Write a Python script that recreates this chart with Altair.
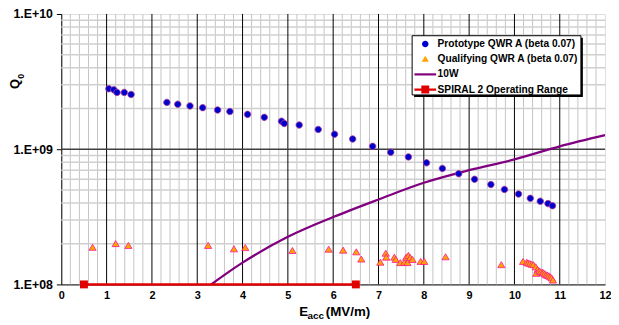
import altair as alt
import pandas as pd

# ---------------- data ----------------
proto_name = "Prototype QWR A (beta 0.07)"
qual_name = "Qualifying QWR A (beta 0.07)"
w10_name = "10W"
spiral_name = "SPIRAL 2 Operating Range"
series_names = [proto_name, qual_name, w10_name, spiral_name]

proto_E = [1.05, 1.16, 1.23, 1.39, 1.54, 2.33, 2.57, 2.84, 3.12, 3.45, 3.72, 4.11, 4.48,
           4.86, 4.92, 5.25, 5.67, 6.03, 6.43, 6.87, 7.27, 7.66, 8.06, 8.41, 8.77, 9.12,
           9.48, 9.78, 10.09, 10.35, 10.57, 10.74, 10.84]
proto_Q = [2.80e9, 2.75e9, 2.63e9, 2.63e9, 2.54e9, 2.22e9, 2.15e9, 2.09e9, 2.03e9, 1.95e9,
           1.90e9, 1.81e9, 1.72e9, 1.61e9, 1.55e9, 1.51e9, 1.40e9, 1.29e9, 1.19e9, 1.05e9,
           9.5e8, 8.77e8, 7.93e8, 7.21e8, 6.59e8, 5.99e8, 5.48e8, 5.04e8, 4.66e8, 4.33e8,
           4.12e8, 3.96e8, 3.82e8]

qual_E = [0.69, 1.20, 1.48, 3.24, 3.81, 4.06, 5.10, 5.90, 6.22, 6.51, 6.62, 7.04, 7.16, 7.17,
          7.35, 7.38, 7.48, 7.57, 7.61, 7.66, 7.70, 7.64, 7.75, 7.93, 8.01, 8.48, 9.71, 10.19,
          10.27, 10.30, 10.34, 10.38, 10.42, 10.47, 10.51, 10.48, 10.55, 10.58, 10.62, 10.64,
          10.67, 10.70, 10.73, 10.76, 10.79, 10.82, 10.85]
qual_Q = [1.87e8, 1.99e8, 1.93e8, 1.93e8, 1.82e8, 1.86e8, 1.77e8, 1.81e8, 1.78e8, 1.73e8,
          1.53e8, 1.45e8, 1.69e8, 1.58e8, 1.58e8, 1.52e8, 1.44e8, 1.45e8, 1.58e8, 1.63e8,
          1.57e8, 1.44e8, 1.52e8, 1.47e8, 1.47e8, 1.59e8, 1.39e8, 1.47e8, 1.45e8, 1.43e8,
          1.42e8, 1.40e8, 1.39e8, 1.34e8, 1.28e8, 1.20e8, 1.25e8, 1.23e8, 1.22e8, 1.21e8,
          1.19e8, 1.17e8, 1.16e8, 1.15e8, 1.13e8, 1.11e8, 1.07e8]

w10_E = [3.0, 4.0, 5.0, 6.0, 7.0, 8.0, 9.0, 10.0, 11.0, 12.0]
w10_Q = [8.4e7, 1.45e8, 2.25e8, 3.15e8, 4.25e8, 5.65e8, 7.0e8, 8.4e8, 1.05e9, 1.27e9]

spiral_E = [0.5, 6.5]
spiral_Q = [1e8, 1e8]

x_ticks = [0, 1, 2, 3, 4, 5, 6, 7, 8, 9, 10, 11, 12]
y_ticks = [1e8, 1e9, 1e10]
minor_x = [i / 5 for i in range(1, 60) if i % 5]
major_x = [1, 2, 3, 4, 5, 6, 7, 8, 9, 10, 11]
minor_y = [2e8, 3e8, 4e8, 5e8, 6e8, 7e8, 8e8, 9e8, 2e9, 3e9, 4e9, 5e9, 6e9, 7e9, 8e9, 9e9]
major_y = [1e9]

# ---------------- styles ----------------
colors = ["#0000cc", "#ffa500", "#800080", "#e00000"]
# symbol paths (1 unit = 5 px at size 100)
shapes = [
    "M-0.66,0A0.66,0.66,0,1,0,0.66,0A0.66,0.66,0,1,0,-0.66,0Z",
    "M0,-0.7L0.73,0.53L-0.73,0.53Z",
    "M-2.2,-0.22H2.2V0.22H-2.2Z",
    "M-2.2,-0.24H-0.8V-0.8H0.8V-0.24H2.2V0.24H0.8V0.8H-0.8V0.24H-2.2Z",
]
SYM_SIZE = 100
FONT = "Arial"

xscale = alt.Scale(domain=[0, 12], nice=False, zero=False)
yscale = alt.Scale(type="log", domain=[1e8, 1e10], nice=False)

pts = pd.concat([
    pd.DataFrame({"E": proto_E, "Q": proto_Q, "series": proto_name}),
    pd.DataFrame({"E": qual_E, "Q": qual_Q, "series": qual_name}),
])

x_axis = alt.Axis(values=x_ticks, format="d", labelFont=FONT, labelFontSize=11,
                  labelFontWeight="bold", labelColor="black", ticks=False, tickSize=0,
                  domainColor="black", grid=False, labelPadding=5, title=None,
                  labelFlush=False)
y_axis = alt.Axis(values=y_ticks,
                  labelExpr="'1.E+' + (datum.value < 1e10 ? '0' : '') + format(log(datum.value)/LN10, '.0f')",
                  labelFont=FONT, labelFontSize=12.5, labelFontWeight="bold", labelColor="black",
                  tickSize=5, tickColor="black", domainColor="black", grid=False,
                  labelPadding=4, title=None, labelFlush=False)

X = lambda f: alt.X(f, scale=xscale, axis=x_axis)
Y = lambda f: alt.Y(f, scale=yscale, axis=y_axis)

def vrules(vals, color, width):
    return alt.Chart(pd.DataFrame({"v": vals})).mark_rule(color=color, strokeWidth=width).encode(
        x=X("v:Q"))

def hrules(vals, color, width):
    return alt.Chart(pd.DataFrame({"v": vals})).mark_rule(color=color, strokeWidth=width).encode(
        y=Y("v:Q"))

grid = [
    vrules(minor_x, "#c4c4c4", 1),
    hrules(minor_y, "#cfcfcf", 1.5),
    vrules(major_x, "#000000", 1),
    hrules(major_y, "#404040", 1.5),
]

w10 = alt.Chart(pd.DataFrame({"E": w10_E, "Q": w10_Q})).mark_line(
    color="#800080", strokeWidth=2.3, interpolate="monotone", clip=True).encode(
    x=X("E:Q"), y=Y("Q:Q"))

spiral_df = pd.DataFrame({"E": spiral_E, "Q": spiral_Q})
spiral_line = alt.Chart(spiral_df).mark_line(color="#e00000", strokeWidth=2.5, clip=False).encode(
    x=X("E:Q"), y=Y("Q:Q"))
spiral_pts = alt.Chart(spiral_df).mark_square(color="#e00000", size=64, opacity=1, clip=False).encode(
    x=X("E:Q"), y=Y("Q:Q"))

legend = alt.Legend(title=None, orient="none", legendX=363.65, legendY=25.3, symbolSize=SYM_SIZE,
                    symbolStrokeWidth=0, labelFont=FONT, labelFontSize=10.3,
                    labelFontWeight="bold", labelColor="black", labelOffset=7.35,
                    rowPadding=4.37, padding=0, labelLimit=300, symbolOpacity=1)

points = alt.Chart(pts).mark_point(filled=True, size=SYM_SIZE, opacity=1, strokeWidth=0.8).encode(
    x=X("E:Q"), y=Y("Q:Q"),
    color=alt.Color("series:N", scale=alt.Scale(domain=series_names, range=colors), legend=legend),
    shape=alt.Shape("series:N", scale=alt.Scale(domain=series_names, range=shapes), legend=legend),
    stroke=alt.Stroke("series:N", scale=alt.Scale(domain=[proto_name, qual_name],
                                                  range=["#b03c9c", "#ff1493"]), legend=None),
)

one = alt.Data(values=[{"a": 1}])
shadow = alt.Chart(one).mark_rect(color="black").encode(
    x=alt.value(357.5), x2=alt.value(528.5), y=alt.value(24), y2=alt.value(84))
box = alt.Chart(one).mark_rect(fill="white", stroke="black", strokeWidth=1).encode(
    x=alt.value(355.5), x2=alt.value(526.5), y=alt.value(22), y2=alt.value(82))

def txt(s, x, y, size, angle=0, align="left", baseline="alphabetic"):
    return alt.Chart(one).mark_text(
        text=s, font=FONT, fontSize=size, fontWeight="bold", color="black",
        align=align, baseline=baseline, angle=angle, clip=False).encode(
        x=alt.value(x), y=alt.value(y))

titles = [
    txt("E", 241, 306, 13.5),
    txt("acc", 249.5, 309.5, 10),
    txt("(MV/m)", 268, 306, 13.5),
    txt("Q", -47, 71, 13, angle=270, align="center", baseline="middle"),
    txt("0", -40.5, 63, 9, angle=270, align="center", baseline="middle"),
]

chart = alt.layer(*grid, w10, spiral_line, spiral_pts, points, shadow, box, *titles).properties(
    width=551, height=274,
    autosize=alt.AutoSizeParams(type="none"),
    padding={"left": 54, "top": 4, "right": 6, "bottom": 37},
).configure_view(stroke="black", strokeWidth=1).configure(background="white")

chart.save("out.html", embed_options={"renderer": "svg", "actions": False})
